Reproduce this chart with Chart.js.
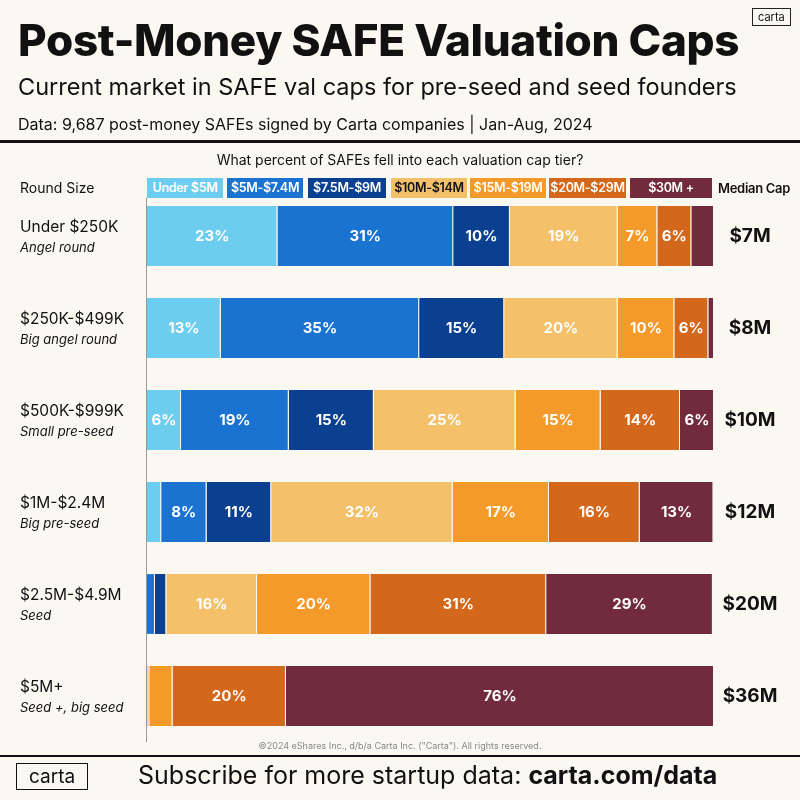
<!DOCTYPE html>
<html><head><meta charset="utf-8">
<script src="https://cdn.jsdelivr.net/npm/chart.js@4"></script>
<style>
body{margin:0;background:#fbf8f2;font-family:Inter,sans-serif;color:#111}
#wrap{position:relative;width:800px;height:800px;overflow:hidden}
canvas{position:absolute;left:0;top:0}
.t{position:absolute;white-space:nowrap}
.lg{position:absolute;top:178px;height:20px;line-height:20px;font-size:12.5px;font-weight:600;text-align:center;color:#fff;letter-spacing:-0.3px}
</style></head><body>
<div id="wrap">
<canvas id="c" width="800" height="800"></canvas>
<div class="t" style="left:18px;top:13px;font-size:44px;font-weight:800;letter-spacing:-0.3px">Post-Money SAFE Valuation Caps</div>
<div class="t" style="left:752px;top:8px;border:1px solid #222;font-size:11px;padding:1px 5px">carta</div>
<div class="t" style="left:18px;top:72px;font-size:23.5px">Current market in SAFE val caps for pre-seed and seed founders</div>
<div class="t" style="left:18px;top:114px;font-size:16px">Data: 9,687 post-money SAFEs signed by Carta companies | Jan-Aug, 2024</div>
<div class="t" style="left:0;top:140px;width:800px;height:3px;background:#111"></div>
<div class="t" style="left:0;top:151px;width:800px;text-align:center;font-size:14px">What percent of SAFEs fell into each valuation cap tier?</div>
<div class="t" style="left:20px;top:179px;font-size:14px">Round Size</div>
<div class="t" style="left:718px;top:180px;font-size:13px;font-weight:600;letter-spacing:-0.3px">Median Cap</div>
<div id="legend"></div>
<div class="t" style="left:0;top:740px;width:800px;text-align:center;font-size:9px;color:#888">©2024 eShares Inc., d/b/a Carta Inc. ("Carta"). All rights reserved.</div>
<div class="t" style="left:0;top:755px;width:800px;height:2px;background:#111"></div>
<div class="t" style="left:16px;top:763px;border:1.5px solid #111;font-size:19px;padding:1px 12px">carta</div>
<div class="t" style="left:138px;top:760px;font-size:25px">Subscribe for more startup data: <b>carta.com/data</b></div>
</div>
<script>
const rounds = ['Under $250K', '$250K-$499K', '$500K-$999K', '$1M-$2.4M', '$2.5M-$4.9M', '$5M+'];
const roundNotes = ['Angel round', 'Big angel round', 'Small pre-seed', 'Big pre-seed', 'Seed', 'Seed +, big seed'];
const medianCaps = ['$7M', '$8M', '$10M', '$12M', '$20M', '$36M'];
const tiers = ['Under $5M', '$5M-$7.4M', '$7.5M-$9M', '$10M-$14M', '$15M-$19M', '$20M-$29M', '$30M +'];
const tierColors = ['#6dcdef', '#1a73d1', '#0b3f8f', '#f4c06a', '#f39a2a', '#d3671b', '#722b3c'];
const tierText = ['#fff', '#fff', '#fff', '#111', '#fff', '#fff', '#fff'];
const under5M = [23, 13, 6, 2.5, 0, 0.2];
const m5to7 = [31, 35, 19, 8, 1.4, 0];
const m7to9 = [10, 15, 15, 11.4, 2, 0];
const m10to14 = [19, 20, 25, 32, 16, 0.2];
const m15to19 = [7, 10, 15, 17, 20, 4.1];
const m20to29 = [6, 6, 14, 16, 31, 20];
const m30plus = [4, 1, 6, 13, 29.4, 75.5];
const series = [under5M, m5to7, m7to9, m10to14, m15to19, m20to29, m30plus];

// legend boxes
const lgPos = [[147, 76], [227, 76], [308, 78], [391, 76], [470, 76], [549, 77], [630, 82]];
document.getElementById('legend').innerHTML = tiers.map((t, i) =>
  `<div class="lg" style="left:${lgPos[i][0]}px;width:${lgPos[i][1]}px;background:${tierColors[i]};color:${tierText[i]}">${t}</div>`).join('');

const sidePlugin = {
  id: 'side',
  afterDatasetsDraw(chart) {
    const { ctx, chartArea } = chart;
    const y = chart.scales.y;
    ctx.save();
    ctx.strokeStyle = '#999';
    ctx.lineWidth = 1;
    ctx.beginPath();
    ctx.moveTo(chartArea.left - 0.5, chartArea.top + 8);
    ctx.lineTo(chartArea.left - 0.5, chartArea.bottom);
    ctx.stroke();
    rounds.forEach((r, i) => {
      const cy = y.getPixelForValue(i);
      ctx.fillStyle = '#111';
      ctx.textAlign = 'left';
      ctx.textBaseline = 'middle';
      ctx.font = '15.5px Inter';
      ctx.fillText(r, 20, cy - 9);
      ctx.font = 'italic 13px Inter';
      ctx.fillText(roundNotes[i], 20, cy + 12);
      ctx.font = 'bold 19px Inter';
      ctx.textAlign = 'center';
      ctx.fillText(medianCaps[i], 750, cy);
    });
    // segment labels
    chart.data.datasets.forEach((ds, di) => {
      chart.getDatasetMeta(di).data.forEach((bar, i) => {
        const v = ds.data[i];
        if (v < 5) return;
        ctx.fillStyle = '#fff';
        ctx.font = 'bold 15px Inter';
        ctx.textAlign = 'center';
        ctx.fillText(Math.round(v) + '%', (bar.x + bar.base) / 2, bar.y);
      });
    });
    ctx.restore();
  }
};

new Chart(document.getElementById('c'), {
  type: 'bar',
  data: {
    labels: rounds,
    datasets: series.map((d, i) => ({
      label: tiers[i], data: d, backgroundColor: tierColors[i],
      borderColor: '#fbf8f2', borderWidth: { right: 1 }, borderSkipped: false
    }))
  },
  options: {
    indexAxis: 'y',
    responsive: false,
    animation: false,
    layout: { padding: { left: 147, right: 86, top: 190, bottom: 58 } },
    scales: {
      x: { stacked: true, min: 0, max: 100, display: false },
      y: { stacked: true, display: false }
    },
    datasets: { bar: { categoryPercentage: 1, barPercentage: 0.65 } },
    plugins: { legend: { display: false }, tooltip: { enabled: false } }
  },
  plugins: [sidePlugin]
});
</script>
</body></html>
